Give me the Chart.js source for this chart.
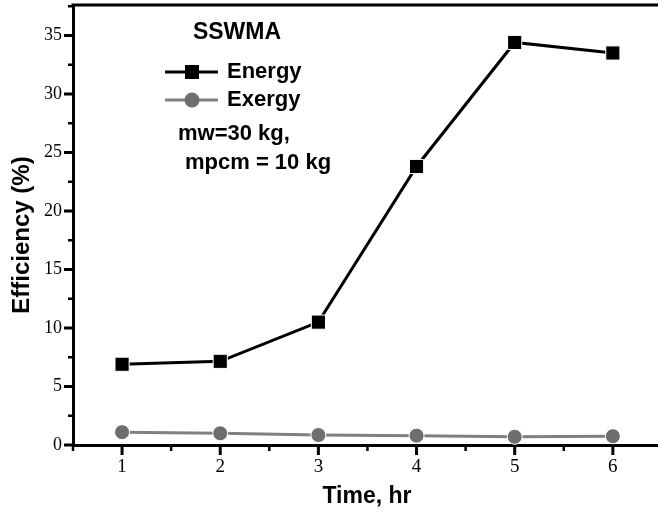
<!DOCTYPE html>
<html>
<head>
<meta charset="utf-8">
<script src="https://cdn.jsdelivr.net/npm/chart.js@4"></script>
<style>
  body { margin: 0; background: #fff; }
  #wrap { width: 658px; height: 516px; }
</style>
</head>
<body>
<div id="wrap"><canvas id="grafica"></canvas></div>
<script>
const horas = [1, 2, 3, 4, 5, 6];
const energia = [6.9, 7.15, 10.5, 23.8, 34.4, 33.5];
const exergia = [1.1, 1.0, 0.85, 0.8, 0.7, 0.75];
const ticksY = [0, 5, 10, 15, 20, 25, 30, 35];
const menoresY = [2.5, 7.5, 12.5, 17.5, 22.5, 27.5, 32.5, 37.5];
const menoresX = [0.5, 1.5, 2.5, 3.5, 4.5, 5.5, 6.5];

const ctx = document.querySelector("#grafica");

const puntos = (valores) => horas.map((h, i) => ({ x: h, y: valores[i] }));

// ticks, etiquetas, marco superior, titulos y leyenda dibujados a mano
const extras = {
    id: 'extras',
    afterDraw(chart) {
        const c = chart.ctx;
        const area = chart.chartArea;
        const sx = chart.scales.x;
        const sy = chart.scales.y;
        c.save();
        c.strokeStyle = '#000';
        c.lineWidth = 3;
        c.beginPath();
        c.moveTo(area.left - 1.5, area.top);
        c.lineTo(area.right, area.top);
        ticksY.forEach(v => {
            const y = sy.getPixelForValue(v);
            c.moveTo(area.left, y);
            c.lineTo(area.left - 9, y);
        });
        horas.forEach(v => {
            const x = sx.getPixelForValue(v);
            c.moveTo(x, area.bottom);
            c.lineTo(x, area.bottom + 10);
        });
        c.stroke();
        c.lineWidth = 2.5;
        c.beginPath();
        menoresY.forEach(v => {
            const y = sy.getPixelForValue(v);
            if (y < area.top) return;
            c.moveTo(area.left, y);
            c.lineTo(area.left - 5, y);
        });
        menoresX.forEach(v => {
            const x = sx.getPixelForValue(v);
            if (x > area.right) return;
            c.moveTo(x, area.bottom);
            c.lineTo(x, area.bottom + 6);
        });
        c.stroke();

        // etiquetas de ticks
        c.fillStyle = '#000';
        c.textBaseline = 'middle';
        c.textAlign = 'right';
        c.font = '18px "Liberation Serif", "Times New Roman", serif';
        ticksY.forEach(v => {
            c.fillText(String(v), area.left - 11, sy.getPixelForValue(v));
        });
        c.textAlign = 'center';
        c.font = '19px "Liberation Serif", "Times New Roman", serif';
        horas.forEach(v => {
            c.fillText(String(v), sx.getPixelForValue(v), area.bottom + 22);
        });

        // titulos de ejes
        c.font = 'bold 23px "Liberation Sans", Arial, sans-serif';
        c.fillText('Time, hr', 367, 497);
        c.save();
        c.translate(22, 235);
        c.rotate(-Math.PI / 2);
        c.font = 'bold 24px "Liberation Sans", Arial, sans-serif';
        c.fillText('Efficiency (%)', 0, 0);
        c.restore();

        // leyenda
        c.font = 'bold 23px "Liberation Sans", Arial, sans-serif';
        c.fillText('SSWMA', 237, 33);
        c.textAlign = 'left';
        c.font = 'bold 22px "Liberation Sans", Arial, sans-serif';

        c.strokeStyle = '#000';
        c.lineWidth = 3;
        c.beginPath();
        c.moveTo(165, 72); c.lineTo(218, 72);
        c.stroke();
        c.fillStyle = '#000';
        c.fillRect(185, 65, 14, 14);
        c.fillText('Energy', 227, 72);

        c.strokeStyle = '#808080';
        c.beginPath();
        c.moveTo(165, 100); c.lineTo(218, 100);
        c.stroke();
        c.fillStyle = '#6e6e6e';
        c.beginPath();
        c.arc(192, 100, 7.5, 0, Math.PI * 2);
        c.fill();
        c.fillStyle = '#000';
        c.fillText('Exergy', 227, 100);

        c.fillText('mw=30 kg,', 178, 134);
        c.fillText('mpcm = 10 kg', 185, 163);
        c.restore();
    }
};

const grafica = new Chart(ctx, {
    type: 'line',
    data: {
        datasets: [{
            label: 'Energy',
            data: puntos(energia),
            borderColor: '#000',
            backgroundColor: '#000',
            borderWidth: 3,
            pointStyle: 'rect',
            pointRadius: 10,
            pointBorderColor: '#fff',
            pointBorderWidth: 1,
            pointBackgroundColor: '#000'
        }, {
            label: 'Exergy',
            data: puntos(exergia),
            borderColor: '#808080',
            backgroundColor: '#6e6e6e',
            borderWidth: 3,
            pointStyle: 'circle',
            pointRadius: 7.5,
            pointBorderColor: '#fff',
            pointBorderWidth: 1,
            pointBackgroundColor: '#6e6e6e'
        }]
    },
    options: {
        responsive: true,
        maintainAspectRatio: false,
        animation: false,
        layout: { autoPadding: false, padding: { top: 5, right: 0, left: 0, bottom: 0 } },
        plugins: {
            legend: { display: false },
            tooltip: { enabled: false }
        },
        scales: {
            x: {
                type: 'linear',
                min: 0.5,
                max: 6.46,
                afterBuildTicks: (scale) => {
                    scale.ticks = horas.map(v => ({ value: v }));
                },
                afterFit: (scale) => { scale.height = 71; },
                grid: { display: false, drawTicks: false },
                border: { display: true, color: '#000', width: 3 },
                ticks: { display: false }
            },
            y: {
                min: 0,
                max: 37.6,
                afterBuildTicks: (scale) => {
                    scale.ticks = ticksY.map(v => ({ value: v }));
                },
                afterFit: (scale) => { scale.width = 73; },
                grid: { display: false, drawTicks: false },
                border: { display: true, color: '#000', width: 3 },
                ticks: { display: false }
            }
        }
    },
    plugins: [extras]
});
</script>
</body>
</html>
